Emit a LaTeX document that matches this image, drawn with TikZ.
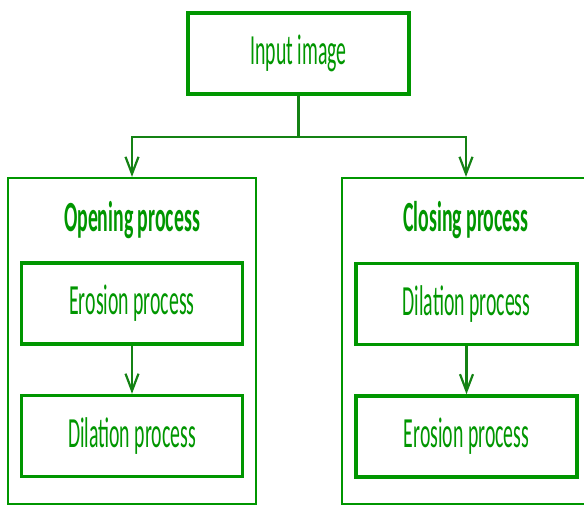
\documentclass[tikz,border=0pt]{standalone}
\usepackage{fontspec}
\setmainfont[FakeStretch=0.46]{Carlito}
\usetikzlibrary{arrows.meta}
\definecolor{grn}{RGB}{0,150,0}
\definecolor{dgrn}{RGB}{20,130,20}
\begin{document}
\begin{tikzpicture}[x=1pt,y=-1pt]
            \tikzset{box/.style={draw=grn, line width=3.5pt, inner sep=0pt, text=grn,
            minimum width=221pt, minimum height=81pt, font=\fontsize{43}{48}\selectfont},
            outer/.style={draw=grn, line width=2.2pt, minimum width=248pt, minimum height=326pt},
            title/.style={text=grn, font=\fontsize{43}{48}\selectfont\bfseries},
            arr/.style={draw=dgrn, line width=2.2pt, -{Straight Barb[length=17pt,width=13pt]}}}
            \useasboundingbox (0,0) rectangle (584,506);
            
            \node[box] (in) at (298.5,53.5) {Input image};
            \node[outer] (open) at (132,341) {};
            \node[outer] (close) at (466,341) {};
            \node[title] (opent) at (132,220.5) {Opening process};
            \node[title] (closet) at (466,220.5) {Closing process};
            \node[box] (ero1) at (132,303.5) {Erosion process};
            \node[box] (dil1) at (132,436) {Dilation process};
            \node[box] (dil2) at (466.5,304) {Dilation process};
            \node[box] (ero2) at (466.5,436.5) {Erosion process};
            
            \coordinate (split) at (298.5,137);
            \draw[draw=dgrn, line width=2.2pt] (in.south) -- (split);
            \draw[arr] (split) -| (open.north);
            \draw[arr] (split) -| (close.north);
            \draw[arr] (ero1) -- (dil1);
            \draw[arr] (dil2) -- (ero2);
        \end{tikzpicture}
\end{document}
